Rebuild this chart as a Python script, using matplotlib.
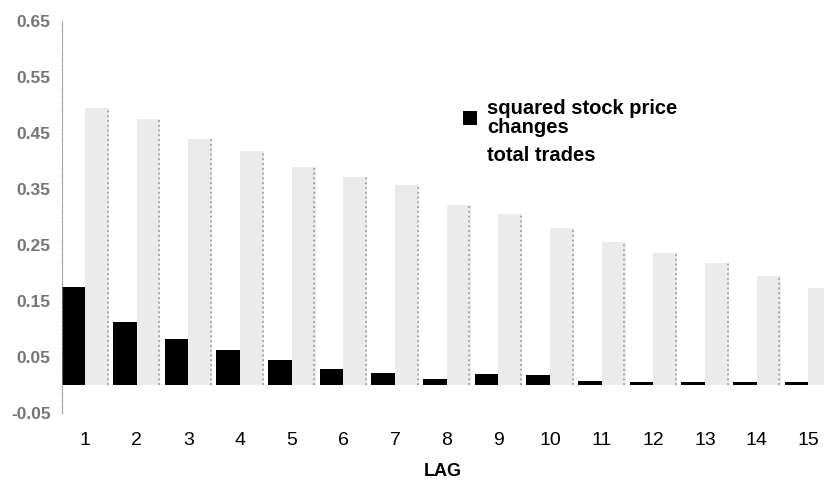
import numpy as np
import matplotlib
matplotlib.use("Agg")
import matplotlib.pyplot as plt

plt.rcParams['font.family'] = ['Liberation Sans', 'DejaVu Sans']

# data
lags = [1, 2, 3, 4, 5, 6, 7, 8, 9, 10, 11, 12, 13, 14, 15]
squared_changes = [0.175, 0.113, 0.082, 0.062, 0.044, 0.028, 0.022, 0.011, 0.020, 0.017,
                   0.007, 0.006, 0.006, 0.006, 0.005]
total_trades = [0.495, 0.475, 0.44, 0.418, 0.39, 0.372, 0.357, 0.322, 0.305, 0.28,
                0.256, 0.235, 0.218, 0.194, 0.173]
yticks = [-0.05, 0.05, 0.15, 0.25, 0.35, 0.45, 0.55, 0.65]

fig = plt.figure(figsize=(8.24, 4.87), dpi=100)
ax = fig.add_axes([0.075, 0.152, 0.925, 0.805])

x = np.array(lags)
w = 0.46
b1 = ax.bar(x - w / 2, squared_changes, width=w, color='black',
            label='squared stock price\nchanges')
b2 = ax.bar(x + w / 2, total_trades, width=w, color='#ebebeb',
            label='total trades')
# stippled right edge of the grey bars
ax.vlines(x + w * 0.95, 0, total_trades, colors='#a0a0a0', linestyles=':', linewidth=1.3)

ax.set_xlim(0.55, 15.3)
ax.set_ylim(-0.05, 0.65)
ax.set_yticks(yticks)
ax.set_yticklabels(['%.2f' % v for v in yticks], fontsize=12.5, fontweight='bold',
                   color='#757575')
ax.set_xticks(lags)
ax.set_xticklabels([str(v) for v in lags], fontsize=14)
ax.tick_params(axis='y', length=0, pad=8)
ax.tick_params(axis='x', length=0, pad=14)
ax.set_xlabel('LAG', fontsize=13, fontweight='bold', labelpad=10)

for s in ['top', 'right', 'bottom']:
    ax.spines[s].set_visible(False)
ax.spines['left'].set_linestyle(':')
ax.spines['left'].set_color('#888888')
ax.spines['left'].set_linewidth(0.7)

leg = ax.legend(handles=[b1, b2], loc='upper left', bbox_to_anchor=(0.526, 0.80),
                frameon=False, prop={'size': 14.5, 'weight': 'bold'},
                handlelength=0.7, handleheight=0.7, handletextpad=0.5,
                labelspacing=0.45, borderpad=0, borderaxespad=0)
leg.legend_handles[1].set_alpha(0)
leg.get_texts()[0].set_linespacing(0.95)

fig.savefig('out.png', dpi=100)
